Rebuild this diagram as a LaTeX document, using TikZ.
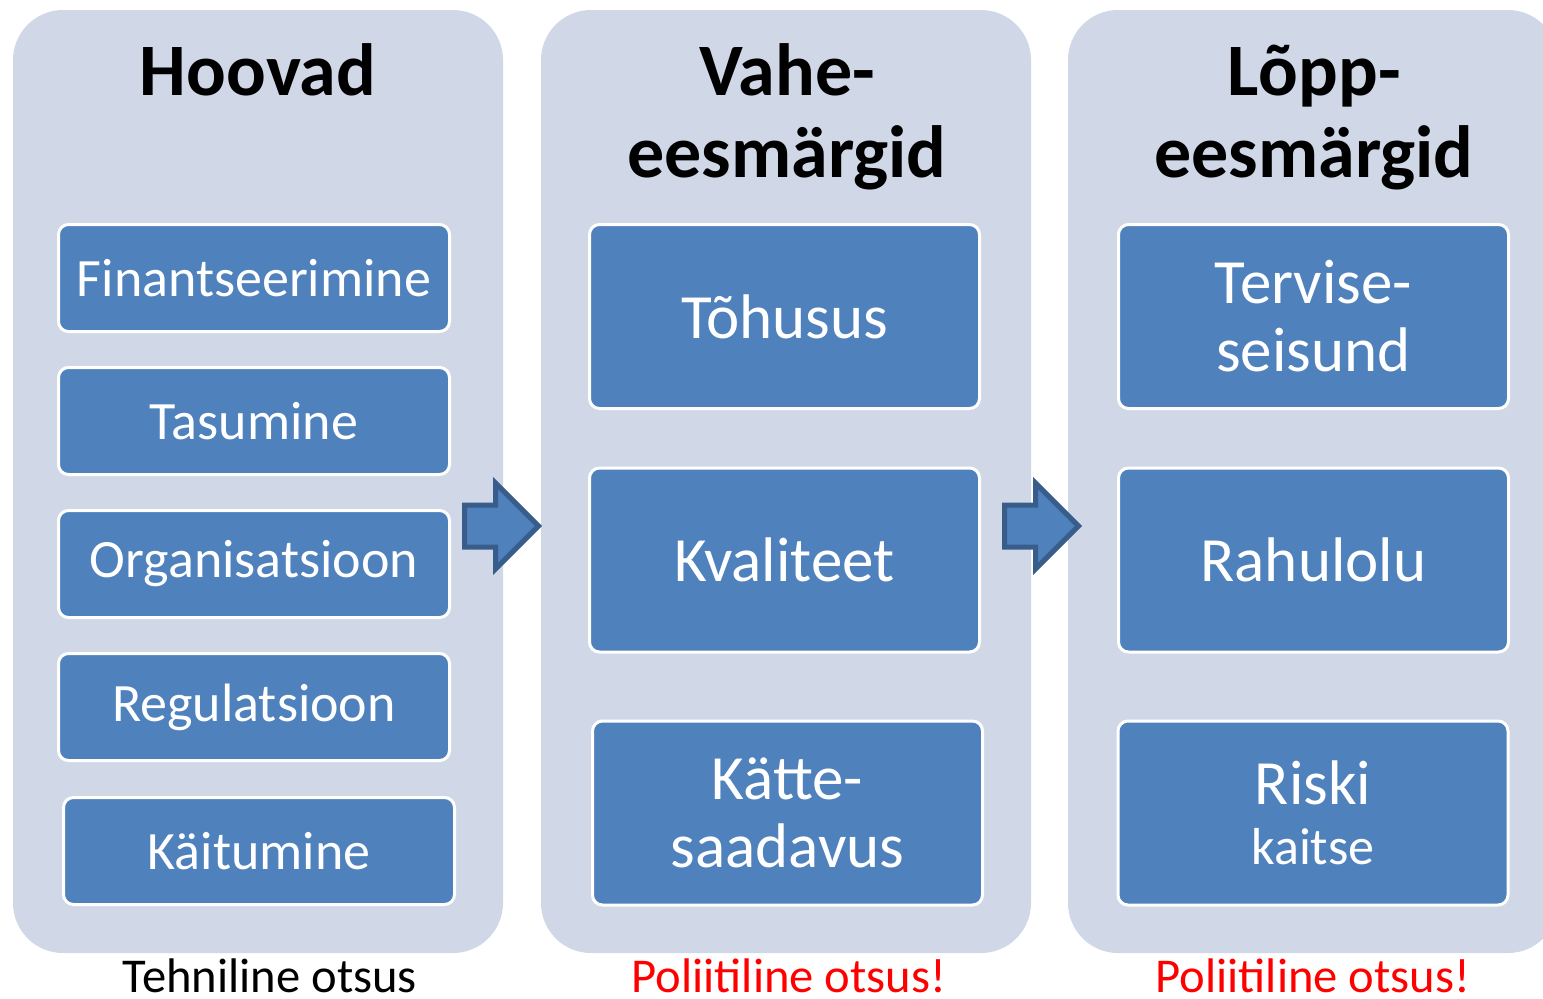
\documentclass[tikz,border=0pt]{standalone}
\usepackage{fontspec}
\setmainfont{Carlito}
\usetikzlibrary{shapes.arrows}
\definecolor{panelbg}{HTML}{D0D8E8}
\definecolor{boxblue}{HTML}{4F81BD}
\definecolor{arrowline}{HTML}{385D8A}
\tikzset{
  panel/.style={fill=panelbg, rounded corners=25pt, minimum width=245pt, minimum height=471.5pt, inner sep=0pt},
  head/.style={font=\fontsize{37}{41}\selectfont\bfseries, align=center, anchor=base},
  lever/.style={draw=white, line width=1.5pt, fill=boxblue, rounded corners=5pt, text=white,
    minimum width=195.5pt, minimum height=53.5pt, inner sep=0pt, font=\fontsize{27}{30}\selectfont},
  goal/.style={lever, minimum width=195pt, minimum height=92pt, align=center, font=\fontsize{31.5}{34}\selectfont},
  bigarrow/.style={single arrow, single arrow head extend=11pt, minimum height=37pt, minimum width=0pt,
    inner xsep=0pt, inner ysep=9.25pt, fill=boxblue, draw=arrowline, line width=2.5pt},
  note/.style={font=\fontsize{24.3}{28}\selectfont, anchor=base, inner sep=0pt},
}
\begin{document}
\begin{tikzpicture}[x=0.5pt, y=-0.5pt]
\useasboundingbox (0,0) rectangle (1543,998);
\clip (0,0) rectangle (1543,998);
% panels
\node[panel](hoovad) at (258,481.5) {};
\node[panel](vahe) at (786,481.5) {};
\node[panel](lopp) at (1313,481.5) {};
%
\node[head](hoovadtitle) at (258,95) {Hoovad};
\node[head](vahetitle) at (787,177) {Vahe-\\eesmärgid};
\node[head](lopptitle) at (1314,177) {Lõpp-\\eesmärgid};
% levers
\node[lever](fin) at (254,278) {Finantseerimine};
\node[lever](tas) at (254,421) {Tasumine};
\node[lever](org) at (254,564) {Organisatsioon};
\node[lever](reg) at (254,707) {Regulatsioon};
\node[lever](kai) at (259,851) {Käitumine};
% intermediate goals
\node[goal](toh) at (784.5,316.5) {Tõhusus};
\node[goal](kva) at (784.5,560) {Kvaliteet};
\node[goal](kat) at (787.5,813) {Kätte-\\saadavus};
% final goals
\node[goal](ter) at (1313.5,316.5) {Tervise-\\seisund};
\node[goal](rah) at (1313.5,560) {Rahulolu};
\node[goal, font=\fontsize{31.5}{30}\selectfont](ris) at (1313,813) {Riski\\\fontsize{26}{30}\selectfont kaitse};
%
\node[bigarrow](arr1) at (491,526) {};
\node[bigarrow](arr2) at (1031,526) {};
%
\node[note](tehn) at (270,992) {Tehniline otsus};
\node[note, text=red](pol1) at (789,992) {Poliitiline otsus!};
\node[note, text=red](pol2) at (1313,992) {Poliitiline otsus!};
\end{tikzpicture}
\end{document}
